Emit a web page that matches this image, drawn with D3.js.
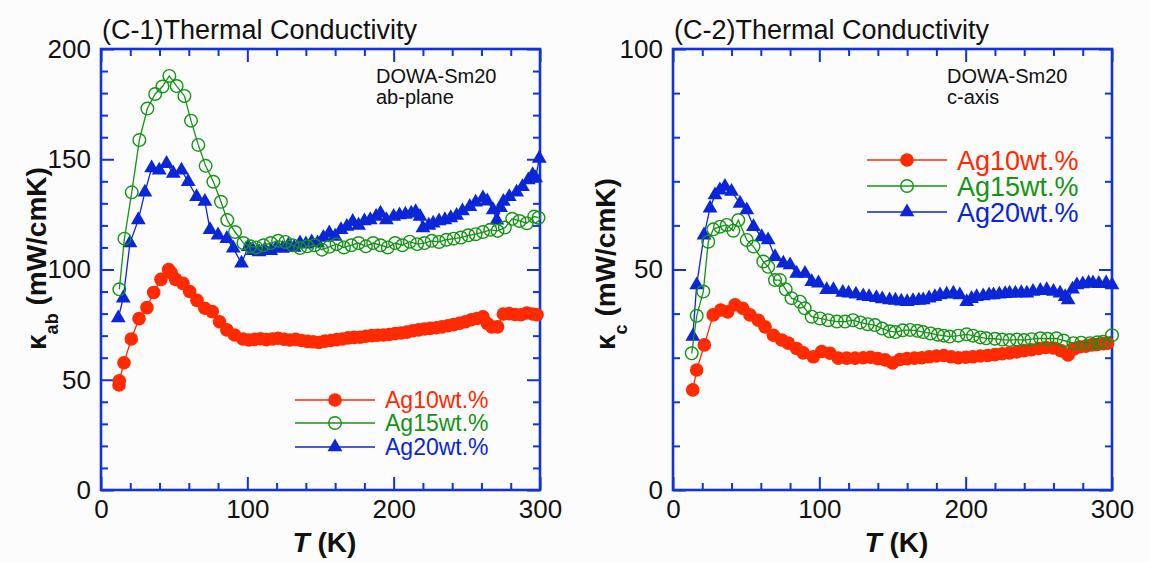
<!DOCTYPE html>
<html>
<head>
<meta charset="utf-8">
<script src="https://cdn.jsdelivr.net/npm/d3@7"></script>
<style>
body { margin: 0; background: #fcfcfc; }
svg { display: block; font-family: "Liberation Sans", Arial, Helvetica, sans-serif; }
</style>
</head>
<body>
<div id="chart"></div>
<script>
const W = 1150, H = 562;
const AXIS = '#1232dc';
const RED = '#ff2a00', GREEN = '#149414', BLUE = '#0a26d8';

const seriesNames = ['Ag10wt.%', 'Ag15wt.%', 'Ag20wt.%'];
const tempTicks = [0, 100, 200, 300];
const abTicks = [0, 50, 100, 150, 200];
const cTicks = [0, 50, 100];

// (C-1) ab-plane, [T (K), kappa (mW/cmK)]
const ab10 = [[12.3,47.6],[12.5,49.5],[15.7,57.7],[20.7,68.5],[26,77.7],[31.4,82.7],[36,89.6],[41,95.5],[46.2,100],[48,98.5],[51,95.5],[56,93.7],[60.6,90],[65.6,86],[71,82.4],[76,80.9],[81,76.3],[86,72.6],[91.3,70.3],[97,68.5],[101,68],[105,68.3],[109,68.6],[113,68.2],[117,68.5],[121,68.8],[125,68.4],[129,68],[133,68.3],[137,67.8],[141,67.4],[145,67.2],[149,66.9],[153,67.5],[157,67.8],[161,68.2],[165,68.5],[169,69],[173,69.2],[177,69.3],[181,69.7],[185,70],[189,70.2],[193,70.3],[197,70.5],[201,71],[205,71.2],[209,71.6],[213,72.2],[217,72.6],[221,73],[225,73.3],[229,73.6],[233,74],[237,74.5],[241,75],[245,75.6],[249,76.3],[253,77.2],[257,77.8],[261,78.6],[264,75.5],[267,74],[271,74],[275,79.8],[279,80],[283,79.6],[287,79.5],[291,80.3],[295,79.8],[298,79.5]];
const ab15 = [[12.5,91],[16,114],[21,135],[26.2,158.7],[31.7,173],[37,179.6],[42,183],[46.7,187.8],[51.7,183.2],[57,178.7],[61.5,167.5],[66.5,156.5],[71.5,147],[76.8,139.8],[82,130.7],[86.3,122.4],[91.6,117],[97.3,112],[102,110.5],[106,110],[111,111],[116,112],[121,113],[126,112.5],[131,111],[136,109.7],[141,110.5],[146,111],[151,109],[156,110.3],[161,111.5],[166,110],[171,111],[176,112],[181,110.5],[186,112],[191,111],[196,110],[201,112],[206,111],[211,112.6],[216,111.5],[221,112],[226,113],[231,112.5],[236,113.5],[241,114],[246,114.5],[251,115.5],[256,116],[261,117],[266,118],[271,117.5],[276,119],[281,123],[286,122],[291,121],[296,124],[299,123.5]];
const ab20 = [[11.8,78],[15.2,87],[19.8,112],[25.5,122.5],[30,135],[34.6,146],[39.8,145],[44.8,148],[49.4,143.6],[55,145],[59.6,139.8],[65.3,133],[71,130.8],[74.5,118],[80,115.6],[86,114],[90.4,109.6],[96,102.8],[100.7,110.3],[104,108.5],[108,108],[112,109],[116,108.5],[120,110],[124,109.5],[128,111],[132,110],[136,112],[140,111.5],[144,112.5],[148,112],[152,114.5],[156,116.5],[160,115],[164,118],[168,119.5],[172,121.7],[176,120],[180,122],[184,122.5],[188,124],[191,125.5],[195,122.5],[200,124],[204,124.7],[208,125],[212,125.5],[215,126.2],[218,124],[220,118.8],[224,120],[227,121],[231,122],[235,122.5],[239,123.4],[243,124.5],[247,126.5],[252,128.5],[256,130.5],[261,132.4],[264,131],[268,127],[270.5,122.4],[273,128],[275,130.8],[279,133],[284,135],[288,137.5],[292,140.6],[295,143],[297,141.5],[299.5,150.4]];

// (C-2) c-axis
const c10 = [[13.5,22.7],[16.2,27.2],[21.4,32.9],[27.5,39.7],[32.6,40.8],[37.4,40.4],[42.4,42],[47.6,41.2],[52.6,39.7],[58.3,38.5],[62.9,37],[68.6,35.1],[74.3,34],[78.8,33.3],[84.5,32.1],[89,31.1],[95.9,30.2],[101.6,31.4],[107.3,31],[113,29.9],[118.7,29.9],[124.4,29.9],[130,30],[135,30.1],[140,29.8],[145,29.5],[150,28.8],[155,29.6],[160,29.8],[165,29.9],[170,30],[175,30.2],[180,30.4],[185,30.5],[190,30.2],[195,30],[200,30.1],[205,30.2],[210,30.4],[215,30.5],[220,30.7],[225,30.9],[230,31.1],[235,31.3],[240,31.6],[245,31.8],[250,32.1],[255,32.3],[260,32.2],[265,31.6],[270,30.6],[274,32],[278,32.5],[282,32.6],[286,32.9],[290,33],[294,33.2],[297,33.3]];
const c15 = [[12.8,31],[16.2,39.5],[20.7,45],[24.1,56.3],[27.5,59.1],[32.1,59.7],[36.7,60.1],[41.2,58.8],[44.6,61.2],[50.4,56.7],[55,55.2],[61.7,51.8],[65.1,50.6],[69.7,47.6],[73,47.6],[77,45.5],[81,43.5],[86.8,42.7],[90,41.2],[94.8,39.3],[100.5,38.9],[106,38.5],[112,38.2],[117.6,38.2],[123,38.5],[128,38],[133,37.6],[138,37.4],[143,36.6],[148,36],[152,35.8],[157,36.2],[162,36.3],[167,36.1],[171,35.8],[176,35.5],[181,35.2],[185,35],[189,34.8],[195,35],[200.7,35.3],[205,35],[210,34.6],[214,34.4],[220,34.3],[225,34.1],[230,34],[235,34.1],[240,34],[245,34.2],[251,34.4],[256,34.3],[262,34.4],[267,33.9],[273.6,33.3],[279,33.4],[285,33.3],[290,33.5],[294,33.6],[300,35.1]];
const c20 = [[13.5,34.8],[16.2,46.5],[21.2,57.8],[25.3,63.9],[28.7,66.9],[32,68],[35.5,68.8],[40,67.7],[45.8,65],[50.4,63.5],[55,59.7],[60.6,57.4],[65,56.7],[69.7,52.9],[75.4,51.4],[80,51],[84.5,49.1],[90.2,49.1],[94.8,47.2],[99.4,46.9],[105,45.4],[109.6,45.4],[116,44.8],[120,44.6],[125,44.4],[130,44],[134,43.8],[139,43.6],[143,43.3],[148,43.1],[152,43],[156,42.8],[160,42.7],[164,42.9],[168,43],[171,43.1],[175,43.5],[179,43.8],[182.5,44.2],[187,44.4],[191.6,44.6],[196,44.2],[200.7,42.7],[204,43.4],[207.5,43.8],[212,44],[216,44.2],[219,44.2],[223,44.4],[227,44.5],[230,44.6],[234,44.6],[238,44.7],[241.8,44.6],[246,45],[251,45.2],[255.4,45.4],[260,45],[264.5,44.6],[268,43.8],[270,43.1],[273,45.5],[276,46.5],[280,46.7],[284,46.9],[287,46.9],[291,46.8],[296,46.9],[300,46.5]];

const svg = d3.select('#chart').append('svg')
  .attr('width', W)
  .attr('height', H);

svg.append('rect').attr('width', W).attr('height', H).attr('fill', '#fcfcfc');

const plotTop = 49, plotBottom = 490;

function marks(g, pts, color, kind, r) {
  if (kind === 'tri') {
    g.selectAll(null).data(pts).join('path')
      .attr('d', d3.symbol(d3.symbolTriangle, 95))
      .attr('transform', d => `translate(${d[0]},${d[1]})`)
      .attr('fill', color);
  } else {
    g.selectAll(null).data(pts).join('circle')
      .attr('cx', d => d[0])
      .attr('cy', d => d[1])
      .attr('r', r)
      .attr('fill', kind === 'open' ? 'none' : color)
      .attr('stroke', color)
      .attr('stroke-width', kind === 'open' ? 1.4 : 0);
  }
}

function axisStyle(sel) {
  sel.select('.domain').remove();
  sel.attr('color', AXIS).attr('font-family', null).attr('font-size', null);
  sel.selectAll('line').attr('stroke-width', 2);
  sel.selectAll('text').attr('fill', '#111').attr('font-size', 26);
}

function panel(opt) {
  const x = d3.scaleLinear().domain([0, 300]).range([opt.left, opt.right]);
  const y = d3.scaleLinear().domain([0, opt.yMax]).range([plotBottom, plotTop]);
  const g = svg.append('g');

  const xMinor = d3.range(0, 301, 20).filter(v => v % 100);
  const yMinor = d3.range(0, opt.yMax + 1, 10).filter(v => v % 50);

  // bottom / top
  g.append('g').attr('transform', `translate(0,${plotBottom})`)
    .call(d3.axisBottom(x).tickValues(tempTicks).tickSize(-13).tickPadding(10)).call(axisStyle);
  g.append('g').attr('transform', `translate(0,${plotBottom})`)
    .call(d3.axisBottom(x).tickValues(xMinor).tickSize(-7).tickFormat('')).call(axisStyle);
  g.append('g').attr('transform', `translate(0,${plotTop})`)
    .call(d3.axisTop(x).tickValues(tempTicks).tickSize(-13).tickFormat('')).call(axisStyle);
  g.append('g').attr('transform', `translate(0,${plotTop})`)
    .call(d3.axisTop(x).tickValues(xMinor).tickSize(-7).tickFormat('')).call(axisStyle);
  // left / right
  g.append('g').attr('transform', `translate(${opt.left},0)`)
    .call(d3.axisLeft(y).tickValues(opt.yTicks).tickSize(-13).tickPadding(10)).call(axisStyle);
  g.append('g').attr('transform', `translate(${opt.left},0)`)
    .call(d3.axisLeft(y).tickValues(yMinor).tickSize(-7).tickFormat('')).call(axisStyle);
  g.append('g').attr('transform', `translate(${opt.right},0)`)
    .call(d3.axisRight(y).tickValues(opt.yTicks).tickSize(-13).tickFormat('')).call(axisStyle);
  g.append('g').attr('transform', `translate(${opt.right},0)`)
    .call(d3.axisRight(y).tickValues(yMinor).tickSize(-7).tickFormat('')).call(axisStyle);

  g.append('rect')
    .attr('x', opt.left).attr('y', plotTop)
    .attr('width', opt.right - opt.left).attr('height', plotBottom - plotTop)
    .attr('fill', 'none').attr('stroke', AXIS).attr('stroke-width', 2.6);

  const line = d3.line().x(d => x(d[0])).y(d => y(d[1]));
  const series = [
    {data: opt.data[0], color: RED, kind: 'fill', r: 6.8},
    {data: opt.data[2], color: BLUE, kind: 'tri'},
    {data: opt.data[1], color: GREEN, kind: 'open', r: 6.3}
  ];
  series.forEach(s => {
    g.append('path').datum(s.data)
      .attr('d', line)
      .attr('fill', 'none')
      .attr('stroke', s.color)
      .attr('stroke-width', 1.3);
    marks(g, s.data.map(d => [x(d[0]), y(d[1])]), s.color, s.kind, s.r);
  });

  // titles
  g.append('text').attr('x', opt.left + 1).attr('y', 39)
    .attr('font-size', 27).attr('fill', '#111').text(opt.title);

  const xt = g.append('text')
    .attr('x', (opt.left + opt.right) / 2 + 4).attr('y', 552)
    .attr('text-anchor', 'middle').attr('font-size', 28).attr('font-weight', 'bold').attr('fill', '#111');
  xt.append('tspan').attr('font-style', 'italic').text('T');
  xt.append('tspan').text(' (K)');

  const yt = g.append('text')
    .attr('transform', `translate(${opt.yLabelX},350) rotate(-90)`)
    .attr('font-size', 28).attr('font-weight', 'bold').attr('fill', '#111');
  yt.append('tspan').text('κ');
  yt.append('tspan').attr('font-size', 18).attr('dy', 12).text(opt.sub);
  yt.append('tspan').attr('dy', -12).text(' (mW/cmK)');

  // sample note
  const note = g.append('text').attr('font-size', 20).attr('fill', '#111');
  note.append('tspan').attr('x', opt.noteX).attr('y', 83).text('DOWA-Sm20');
  note.append('tspan').attr('x', opt.noteX).attr('y', 104).text(opt.note);

  // legend
  const lg = opt.legend;
  const kinds = ['fill', 'open', 'tri'];
  const colors = [RED, GREEN, BLUE];
  seriesNames.forEach((name, i) => {
    const yy = lg.ys[i];
    g.append('line').attr('x1', lg.x0).attr('x2', lg.x1).attr('y1', yy).attr('y2', yy)
      .attr('stroke', colors[i]).attr('stroke-width', 1.3);
    marks(g, [[lg.xm, yy]], colors[i], kinds[i], kinds[i] === 'open' ? 6.3 : 6.8);
    g.append('text').attr('x', lg.xt).attr('y', yy).attr('dy', '0.36em')
      .attr('font-size', lg.fs).attr('fill', colors[i]).text(name);
  });
}

panel({
  left: 101, right: 540, yMax: 200, yTicks: abTicks,
  data: [ab10, ab15, ab20],
  title: '(C-1)Thermal Conductivity',
  sub: 'ab', yLabelX: 46,
  noteX: 376, note: 'ab-plane',
  legend: {x0: 295, x1: 375, xm: 335, xt: 385, ys: [400, 423, 447], fs: 23}
});

panel({
  left: 673, right: 1112, yMax: 100, yTicks: cTicks,
  data: [c10, c15, c20],
  title: '(C-2)Thermal Conductivity',
  sub: 'c', yLabelX: 615,
  noteX: 947, note: 'c-axis',
  legend: {x0: 867, x1: 947, xm: 907, xt: 957, ys: [160, 186, 212], fs: 27}
});
</script>
</body>
</html>
